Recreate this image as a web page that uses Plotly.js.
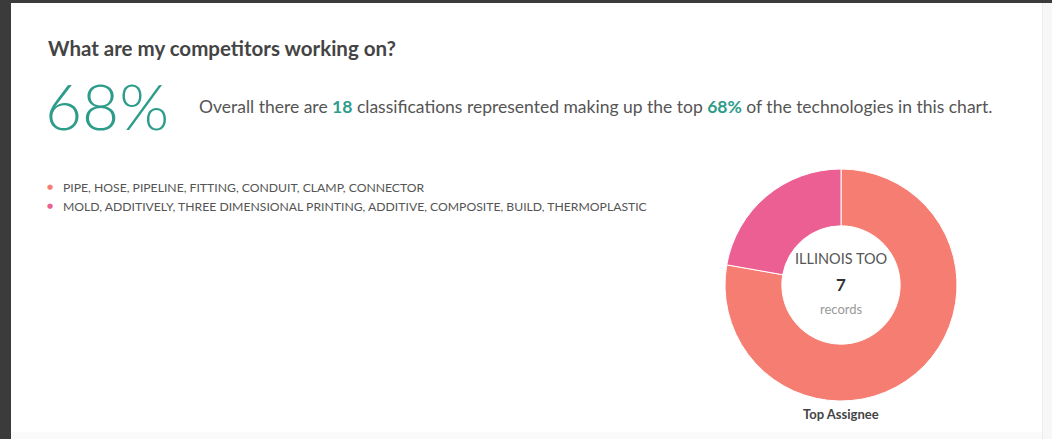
<!DOCTYPE html>
<html><head><meta charset="utf-8">
<script src="https://cdn.plot.ly/plotly-3.0.1.min.js"></script>
<style>html,body{margin:0;padding:0;background:#3b3b3b;}#chart{width:1052px;height:439px;}</style>
</head><body><div id="chart"></div>
<script>
const categories = [
  "PIPE, HOSE, PIPELINE, FITTING, CONDUIT, CLAMP, CONNECTOR",
  "MOLD, ADDITIVELY, THREE DIMENSIONAL PRINTING, ADDITIVE, COMPOSITE, BUILD, THERMOPLASTIC"
];
const values = [7, 2];
const sliceColors = ["#F57D71", "#EC5F92"];
const bigPercent = "68%";
const classificationCount = 18;
const topShare = "68%";
const centerName = "ILLINOIS TOO";
const centerRecords = 7;

const W = 1052, H = 439;
const px = x => x / W;
const py = y => 1 - y / H;
const teal = "#2E9C8A";

const annotations = [
  {text: "<b>What are my competitors working on?</b>", x: px(46), y: py(48), xanchor: "left", yanchor: "middle",
   font: {family: "Lato", size: 20.5, color: "#444"}},
  {text: bigPercent, x: px(43), y: py(106), xanchor: "left", yanchor: "middle",
   font: {family: "Lato", size: 64, color: teal, weight: 300}},
  {text: "Overall there are <b><span style='color:" + teal + "'>" + classificationCount + "</span></b> classifications represented making up the top <b><span style='color:" + teal + "'>" + topShare + "</span></b> of the technologies in this chart.",
   x: px(197), y: py(107), xanchor: "left", yanchor: "middle",
   font: {family: "Lato", size: 17.5, color: "#555"}},
  {text: centerName, x: px(841), y: py(258), xanchor: "center", yanchor: "middle",
   font: {family: "Lato", size: 14.5, color: "#555"}},
  {text: "<b>" + centerRecords + "</b>", x: px(841), y: py(284), xanchor: "center", yanchor: "middle",
   font: {family: "Lato", size: 17, color: "#333"}},
  {text: "records", x: px(841), y: py(309), xanchor: "center", yanchor: "middle",
   font: {family: "Lato", size: 13, color: "#999"}},
  {text: "<b>Top Assignee</b>", x: px(841), y: py(414), xanchor: "center", yanchor: "middle",
   font: {family: "Lato", size: 13, color: "#444"}}
];
categories.forEach((c, i) => {
  const yy = 187 + i * 19;
  annotations.push({text: "●", x: px(50), y: py(yy), xanchor: "center", yanchor: "middle",
    font: {family: "DejaVu Sans", size: 7, color: sliceColors[i]}});
  annotations.push({text: c, x: px(61), y: py(yy), xanchor: "left", yanchor: "middle",
    font: {family: "Lato", size: 12.2, color: "#555"}});
});
annotations.forEach(a => { a.xref = "paper"; a.yref = "paper"; a.showarrow = false; });

const shapes = [
  {type: "rect", xref: "paper", yref: "paper", x0: px(11), x1: 1, y0: 0, y1: py(3), fillcolor: "#ffffff", line: {width: 0}, layer: "below"},
  {type: "rect", xref: "paper", yref: "paper", x0: px(1043), x1: 1, y0: 0, y1: py(3), fillcolor: "#f7f7f7", line: {width: 0}, layer: "below"},
  {type: "line", xref: "paper", yref: "paper", x0: px(1042.5), x1: px(1042.5), y0: 0, y1: py(3), line: {color: "#ececec", width: 1}, layer: "below"},
  {type: "rect", xref: "paper", yref: "paper", x0: px(11), x1: px(1042), y0: 0, y1: py(432), fillcolor: "#fafafa", line: {width: 0}, layer: "below"}
];

const data = [{
  type: "pie",
  labels: categories,
  values: values,
  sort: false,
  direction: "clockwise",
  rotation: 0,
  hole: 0.51,
  marker: {colors: sliceColors, line: {color: "#ffffff", width: 1}},
  textinfo: "none",
  hoverinfo: "none",
  showlegend: false,
  domain: {x: [px(725), px(957)], y: [py(401), py(169)]}
}];

const layout = {
  width: W, height: H,
  margin: {l: 0, r: 0, t: 0, b: 0},
  paper_bgcolor: "#3b3b3b",
  plot_bgcolor: "rgba(0,0,0,0)",
  showlegend: false,
  annotations: annotations,
  shapes: shapes
};
Plotly.newPlot("chart", data, layout, {displayModeBar: false, staticPlot: true});
</script></body></html>
